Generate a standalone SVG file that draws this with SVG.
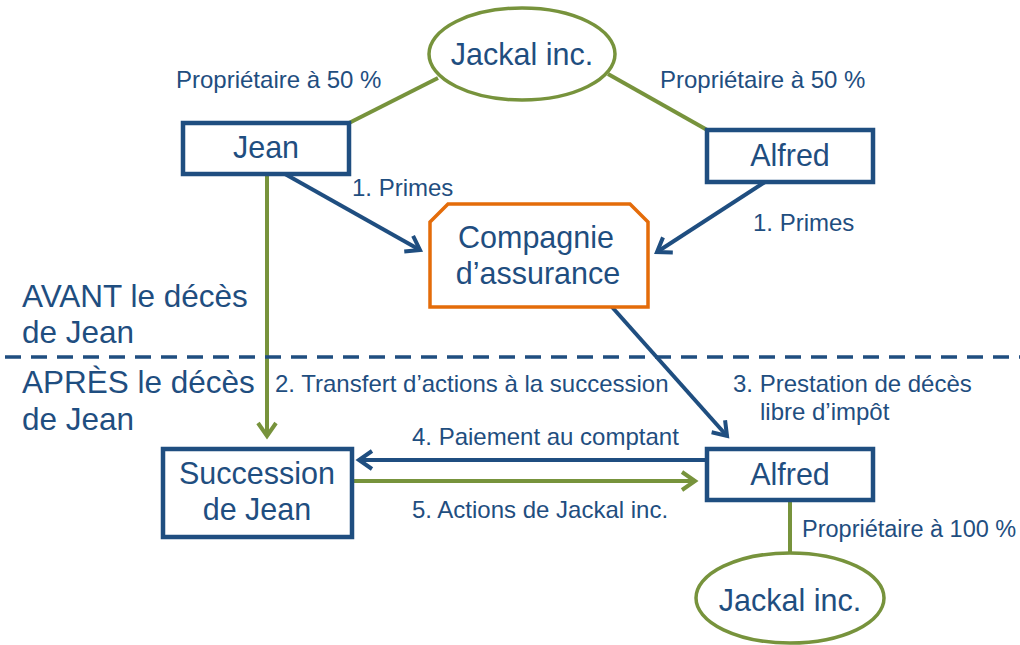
<svg xmlns="http://www.w3.org/2000/svg" width="1020" height="645" viewBox="0 0 1020 645">
<style>
text{font-family:"Liberation Sans",Arial,sans-serif;fill:#1F4E80}
.node{font-size:30.5px;text-anchor:middle}
.lbl{font-size:24px}
.sec{font-size:31.5px}
.box{fill:#fff;stroke:#1F4E80;stroke-width:4.5}
.ell{fill:#fff;stroke:#77933C;stroke-width:3.5}
.bl{stroke:#1F4E80;stroke-width:4;fill:none}
.gr{stroke:#77933C;stroke-width:4;fill:none}
</style>
<defs>
<marker id="ab" markerUnits="userSpaceOnUse" markerWidth="30" markerHeight="30" viewBox="-15 -15 30 30" refX="0" refY="0" orient="auto">
<path d="M-13,-9 L0,0 L-13,9" fill="none" stroke="#1F4E80" stroke-width="4"/>
</marker>
<marker id="ag" markerUnits="userSpaceOnUse" markerWidth="30" markerHeight="30" viewBox="-15 -15 30 30" refX="0" refY="0" orient="auto">
<path d="M-13,-9 L0,0 L-13,9" fill="none" stroke="#77933C" stroke-width="4"/>
</marker>
</defs>
<g id="connectors">
<line class="gr" x1="438" y1="78" x2="347" y2="124"/>
<line class="gr" x1="608" y1="74" x2="709" y2="131"/>
<line class="bl" x1="285" y1="174" x2="420" y2="250" marker-end="url(#ab)"/>
<line class="bl" x1="765" y1="182" x2="657" y2="252" marker-end="url(#ab)"/>
<line class="gr" x1="267" y1="174" x2="267" y2="436" marker-end="url(#ag)"/>
<line class="bl" x1="612" y1="307" x2="727" y2="436" marker-end="url(#ab)"/>
<line class="bl" x1="707" y1="460" x2="359" y2="460" marker-end="url(#ab)"/>
<line class="gr" x1="352" y1="481" x2="695" y2="481" marker-end="url(#ag)"/>
<line class="gr" x1="790" y1="500" x2="790" y2="553"/>
</g>
<line x1="5" y1="357" x2="1020" y2="357" stroke="#1F4E80" stroke-width="3.5" stroke-dasharray="16 10"/>
<g id="jackal-top">
<ellipse class="ell" cx="522" cy="54" rx="93" ry="46"/>
<text class="node" x="522" y="65">Jackal inc.</text>
</g>
<g id="jean">
<rect class="box" x="183" y="123" width="166" height="51"/>
<text class="node" x="266" y="158">Jean</text>
</g>
<g id="alfred-top">
<rect class="box" x="707" y="130" width="166" height="52"/>
<text class="node" x="790" y="166">Alfred</text>
</g>
<g id="compagnie">
<path d="M430,222 L448,204 L630,204 L648,222 L648,307 L430,307 Z" fill="#fff" stroke="#E46C0A" stroke-width="3.5"/>
<text class="node" x="536" y="248">Compagnie</text>
<text class="node" x="538" y="284">d’assurance</text>
</g>
<g id="succession">
<rect class="box" x="163" y="449" width="189" height="88"/>
<text class="node" x="257" y="484">Succession</text>
<text class="node" x="257" y="520">de Jean</text>
</g>
<g id="alfred-bottom">
<rect class="box" x="707" y="449" width="166" height="51"/>
<text class="node" x="790" y="485">Alfred</text>
</g>
<g id="jackal-bottom">
<ellipse class="ell" cx="790" cy="598" rx="94" ry="45"/>
<text class="node" x="790" y="611">Jackal inc.</text>
</g>
<g id="labels">
<text class="lbl" x="176" y="88">Propriétaire à 50 %</text>
<text class="lbl" x="660" y="88">Propriétaire à 50 %</text>
<text class="lbl" x="352" y="196">1. Primes</text>
<text class="lbl" x="753" y="231">1. Primes</text>
<text class="lbl" x="275" y="392">2. Transfert d’actions à la succession</text>
<text class="lbl" x="733" y="392">3. Prestation de décès</text>
<text class="lbl" x="760" y="420">libre d’impôt</text>
<text class="lbl" x="412" y="445">4. Paiement au comptant</text>
<text class="lbl" x="412" y="518">5. Actions de Jackal inc.</text>
<text class="lbl" x="802" y="537" style="font-size:23.5px">Propriétaire à 100 %</text>
<text class="sec" x="22" y="307">AVANT le décès</text>
<text class="sec" x="22" y="343">de Jean</text>
<text class="sec" x="22" y="393">APRÈS le décès</text>
<text class="sec" x="22" y="430">de Jean</text>
</g>
</svg>
